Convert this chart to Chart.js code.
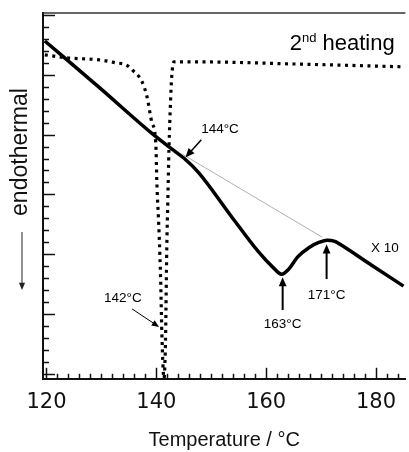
<!DOCTYPE html>
<html>
<head>
<meta charset="utf-8">
<script src="https://cdn.jsdelivr.net/npm/chart.js@4/dist/chart.umd.min.js"></script>
<style>
  html, body { margin: 0; padding: 0; background: #fff; }
  canvas { display: block; }
</style>
</head>
<body>
<canvas id="dsc" width="409" height="452"></canvas>
<script>
// 2nd heating DSC traces (y in arbitrary units, heat flow)
const solidT = [119.7, 129.6, 139.2, 142.8, 145.3, 147.7, 153.6, 158.5, 161.2, 162.8, 164.1, 165.7, 167.9, 169.7, 171.1, 172.5, 173.45, 179.2, 185.0];
const solidY = [27.83, 23.95, 20.1, 18.8, 17.92, 16.83, 13.2, 10.25, 8.92, 8.33, 8.75, 9.75, 10.58, 11.0, 11.17, 11.08, 10.83, 9.08, 7.33];

const dotT = [119.7, 123.7, 129.6, 132.7, 134.5, 135.6, 137.4, 138.3, 139.2, 139.9, 140.1, 140.5, 140.8, 141.0, 141.4, 141.55, 141.7, 141.9, 142.1, 142.3, 142.6, 142.8, 143.2, 143.5, 147.7, 165.7, 185.0];
const dotY = [26.67, 26.42, 26.25, 26.0, 25.83, 25.42, 24.42, 23.17, 21.0, 19.33, 16.0, 11.83, 7.67, 3.5, -0.4, 0.67, 3.5, 10.4, 14.6, 18.75, 22.9, 24.83, 26.08, 26.08, 26.08, 25.9, 25.67];

const baseT = [144.6, 170.2];
const baseY = [18.4, 11.42];

const xTickLabels = [120, 140, 160, 180];
const peakLabels = ["144°C", "142°C", "163°C", "171°C"];

const toXY = (ts, ys) => ts.map((t, i) => ({ x: t, y: ys[i] }));

function arrow(ctx, x1, y1, x2, y2, lw, head) {
    const ang = Math.atan2(y2 - y1, x2 - x1);
    ctx.lineWidth = lw;
    ctx.beginPath();
    ctx.moveTo(x1, y1);
    ctx.lineTo(x2 - Math.cos(ang) * head * 0.8, y2 - Math.sin(ang) * head * 0.8);
    ctx.stroke();
    ctx.beginPath();
    ctx.moveTo(x2, y2);
    ctx.lineTo(x2 - head * Math.cos(ang - 0.4), y2 - head * Math.sin(ang - 0.4));
    ctx.lineTo(x2 - head * Math.cos(ang + 0.4), y2 - head * Math.sin(ang + 0.4));
    ctx.closePath();
    ctx.fill();
}

const decor = {
    id: "decor",
    afterDraw(chart) {
        const { ctx, chartArea: a, scales: { x, y } } = chart;
        const px = v => x.getPixelForValue(v);
        const py = v => y.getPixelForValue(v);
        ctx.save();

        // frame top
        ctx.strokeStyle = "#333";
        ctx.lineWidth = 1.5;
        ctx.beginPath();
        ctx.moveTo(a.left, a.top);
        ctx.lineTo(a.right, a.top);
        ctx.stroke();

        // inward ticks
        ctx.strokeStyle = "#111";
        ctx.lineWidth = 1.5;
        x.ticks.forEach(t => {
            const p = Math.round(px(t.value)) + 0.5;
            const len = xTickLabels.includes(t.value) ? 11 : 5;
            ctx.beginPath();
            ctx.moveTo(p, a.bottom);
            ctx.lineTo(p, a.bottom - len);
            ctx.stroke();
        });
        y.ticks.forEach(t => {
            const p = Math.round(py(t.value)) + 0.5;
            const len = t.value % 5 === 0 ? 12 : 6;
            ctx.beginPath();
            ctx.moveTo(a.left, p);
            ctx.lineTo(a.left + len, p);
            ctx.stroke();
        });

        // annotations
        ctx.fillStyle = "#000";
        ctx.strokeStyle = "#000";
        ctx.font = "13.5px 'Liberation Sans', Arial, sans-serif";
        ctx.textAlign = "center";
        ctx.textBaseline = "middle";

        ctx.fillText(peakLabels[0], px(151.6), py(20.42));
        arrow(ctx, px(148.2), py(19.58), px(145.3), py(18.08), 1.5, 10);

        ctx.fillText(peakLabels[1], px(133.9), py(6.33));
        arrow(ctx, px(135.6), py(5.42), px(140.5), py(3.92), 1, 8);

        ctx.fillText(peakLabels[2], px(163), py(4.17));
        arrow(ctx, px(163), py(5.33), px(163), py(8.08), 2, 10);

        ctx.fillText(peakLabels[3], px(171), py(6.58));
        arrow(ctx, px(171), py(7.92), px(171), py(10.83), 2, 10);

        ctx.fillText("X 10", px(181.6), py(10.5));

        // title
        ctx.textBaseline = "alphabetic";
        ctx.textAlign = "right";
        ctx.font = "22px 'Liberation Sans', Arial, sans-serif";
        const hx = px(183.4), hy = py(27.08);
        ctx.fillText("heating", hx, hy);
        const hw = ctx.measureText(" heating").width;
        ctx.font = "13px 'Liberation Sans', Arial, sans-serif";
        ctx.fillText("nd", hx - hw, hy - 8);
        const nw = ctx.measureText("nd").width;
        ctx.font = "22px 'Liberation Sans', Arial, sans-serif";
        ctx.fillText("2", hx - hw - nw, hy);

        // y label
        ctx.save();
        ctx.translate(27, 152);
        ctx.rotate(-Math.PI / 2);
        ctx.textAlign = "center";
        ctx.font = "23px 'Liberation Sans', Arial, sans-serif";
        ctx.fillStyle = "#111";
        ctx.fillText("endothermal", 0, 0);
        ctx.restore();
        ctx.strokeStyle = "#222";
        ctx.fillStyle = "#222";
        arrow(ctx, 22, 232, 22, 290, 1, 8);

        ctx.restore();
    }
};

new Chart(document.getElementById("dsc"), {
    type: "line",
    data: {
        datasets: [
            {
                data: toXY(baseT, baseY),
                borderColor: "#b0b0b0",
                borderWidth: 1,
                pointRadius: 0
            },
            {
                data: toXY(dotT, dotY),
                borderColor: "#000",
                borderWidth: 3.2,
                borderDash: [3, 4.5],
                borderCapStyle: "butt",
                pointRadius: 0,
                cubicInterpolationMode: "monotone"
            },
            {
                data: toXY(solidT, solidY),
                borderColor: "#000",
                borderWidth: 3.5,
                pointRadius: 0,
                cubicInterpolationMode: "monotone"
            }
        ]
    },
    options: {
        responsive: false,
        animation: false,
        devicePixelRatio: 1,
        layout: { padding: { left: 43, top: 13, right: 0, bottom: 0 } },
        plugins: { legend: { display: false }, tooltip: { enabled: false } },
        scales: {
            x: {
                type: "linear",
                min: 119.37,
                max: 185.35,
                grid: { display: false, drawTicks: false },
                border: { display: true, color: "#111", width: 2 },
                ticks: {
                    stepSize: 2,
                    includeBounds: false,
                    autoSkip: false,
                    maxRotation: 0,
                    padding: 11,
                    color: "#111",
                    font: { family: "'DejaVu Sans'", size: 21 },
                    callback: v => xTickLabels.includes(v) ? String(v) : ""
                },
                title: {
                    display: true,
                    text: "Temperature / °C",
                    color: "#111",
                    font: { family: "'Liberation Sans', Arial", size: 20 },
                    padding: { top: 2, bottom: 0 }
                }
            },
            y: {
                min: -0.42,
                max: 30.17,
                grid: { display: false, drawTicks: false },
                border: { display: true, color: "#111", width: 2 },
                ticks: { display: false, stepSize: 1, includeBounds: false }
            }
        }
    },
    plugins: [decor]
});
</script>
</body>
</html>
